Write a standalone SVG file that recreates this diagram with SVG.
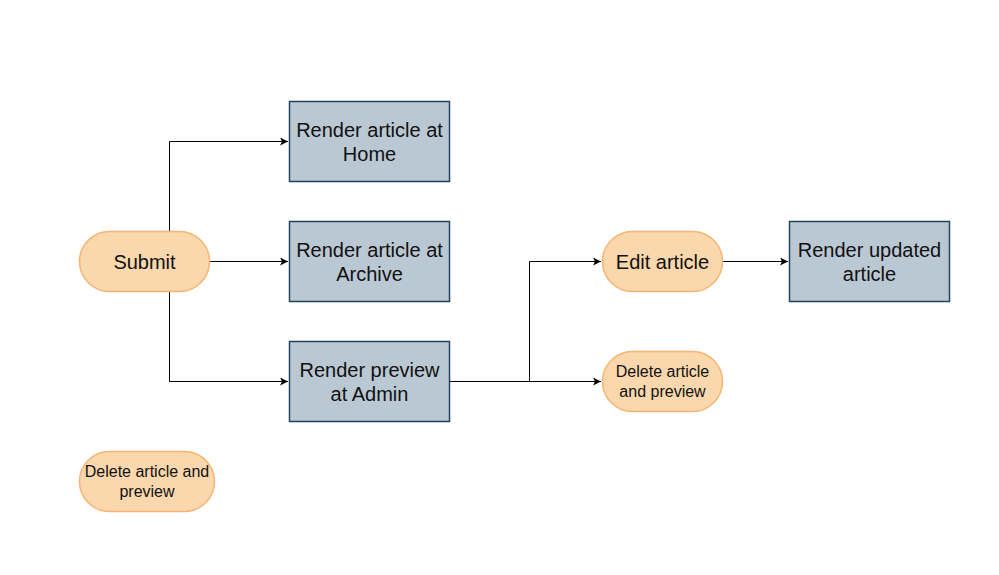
<svg xmlns="http://www.w3.org/2000/svg" width="999" height="575" viewBox="0 0 999 575">
<style>
.term{fill:#fad7ac;stroke:#f7b574;stroke-width:1.5}
.proc{fill:#bac8d3;stroke:#23445d;stroke-width:1.5}
.t{font-family:"Liberation Sans",Arial,sans-serif;font-size:20px;fill:#111;text-anchor:middle}
.s{font-family:"Liberation Sans",Arial,sans-serif;font-size:16px;fill:#111;text-anchor:middle}
.edge{fill:none;stroke:#000;stroke-width:1}
</style>
<defs>
<marker id="arr" markerWidth="10" markerHeight="10" refX="8" refY="4" orient="auto" markerUnits="userSpaceOnUse">
<path d="M0,0 L8,4 L0,8 L2,4 Z" fill="#000"/>
</marker>
</defs>
<rect width="999" height="575" fill="#fff"/>
<g id="connectors">
<path class="edge" d="M169.5,231.5 V141.5 H288" marker-end="url(#arr)"/>
<path class="edge" d="M209.5,261.5 H288" marker-end="url(#arr)"/>
<path class="edge" d="M169.5,291.5 V381.5 H288" marker-end="url(#arr)"/>
<path class="edge" d="M449.5,381.5 H529.5 V261.5 H601" marker-end="url(#arr)"/>
<path class="edge" d="M449.5,381.5 H601" marker-end="url(#arr)"/>
<path class="edge" d="M722.5,261.5 H788" marker-end="url(#arr)"/>
</g>
<g id="submit">
<rect class="term" x="79.5" y="231.5" width="130" height="60" rx="30"/>
<text class="t" x="144.5" y="268.5">Submit</text>
</g>
<g id="home">
<rect class="proc" x="289.5" y="101.5" width="160" height="80"/>
<text class="t" x="369.5" y="137">Render article at</text>
<text class="t" x="369.5" y="161">Home</text>
</g>
<g id="archive">
<rect class="proc" x="289.5" y="221.5" width="160" height="80"/>
<text class="t" x="369.5" y="257">Render article at</text>
<text class="t" x="369.5" y="281">Archive</text>
</g>
<g id="admin">
<rect class="proc" x="289.5" y="341.5" width="160" height="80"/>
<text class="t" x="369.5" y="377">Render preview</text>
<text class="t" x="369.5" y="401">at Admin</text>
</g>
<g id="edit">
<rect class="term" x="602.5" y="231.5" width="120" height="60" rx="30"/>
<text class="t" x="662.5" y="268.5">Edit article</text>
</g>
<g id="delete-right">
<rect class="term" x="602.5" y="351.5" width="120" height="60" rx="30"/>
<text class="s" x="662.5" y="376.5">Delete article</text>
<text class="s" x="662.5" y="396.5">and preview</text>
</g>
<g id="updated">
<rect class="proc" x="789.5" y="221.5" width="160" height="80"/>
<text class="t" x="869.5" y="257">Render updated</text>
<text class="t" x="869.5" y="281">article</text>
</g>
<g id="delete-left">
<rect class="term" x="79.5" y="451.5" width="135" height="60" rx="30"/>
<text class="s" x="147" y="476.5">Delete article and</text>
<text class="s" x="147" y="496.5">preview</text>
</g>
</svg>
